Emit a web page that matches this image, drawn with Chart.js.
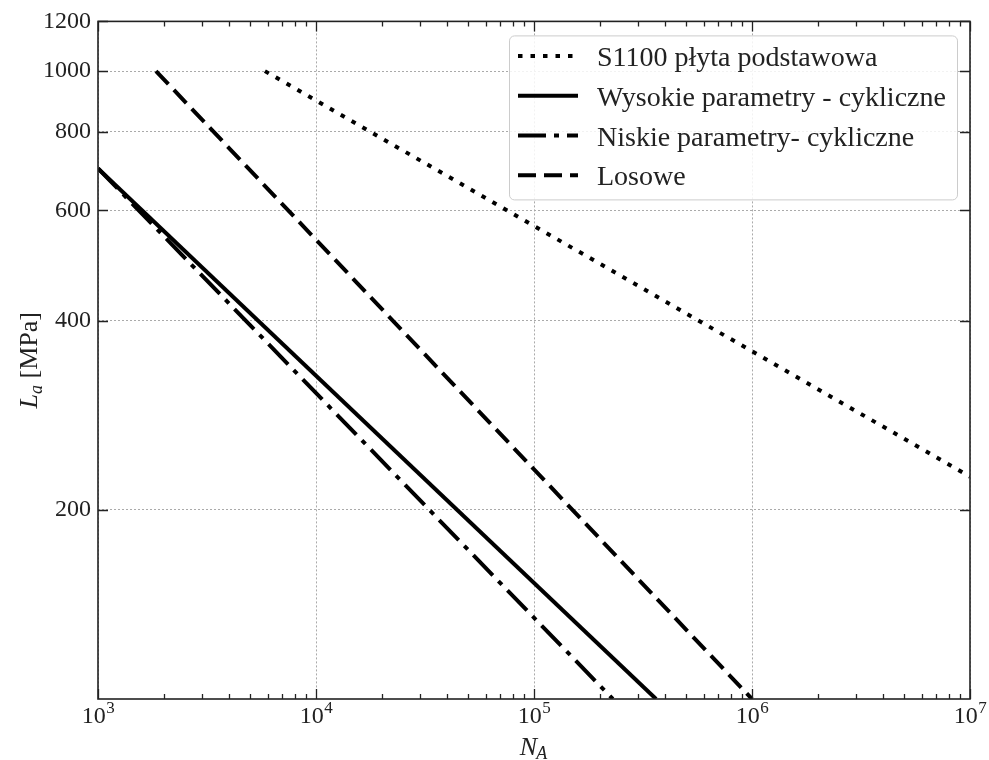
<!DOCTYPE html>
<html>
<head>
<meta charset="utf-8">
<title>L_a - N_A</title>
<script src="https://cdn.jsdelivr.net/npm/chart.js@4.4.1/dist/chart.umd.min.js"></script>
<style>
  html, body { margin: 0; padding: 0; background: #fff; }
  #wrap { width: 989px; height: 760px; }
</style>
</head>
<body>
<div id="wrap"><canvas id="chart" width="989" height="760"></canvas></div>
<script>
/* --------------- Data --------------------- */
const seriesLabels = [
  "S1100 płyta podstawowa",
  "Wysokie parametry - cykliczne",
  "Niskie parametry- cykliczne",
  "Losowe",
];
const s1100N = [5830, 1e7];
const s1100L = [1000, 226];
const wysokieN = [1000, 363000];
const wysokieL = [700, 100];
const niskieN = [1000, 230000];
const niskieL = [700, 100];
const losoweN = [1845, 1e6];
const losoweL = [1000, 100];
/* --------------- Ticks --------------------- */
const xTicks = [1e3, 1e4, 1e5, 1e6, 1e7];
const xExponents = ["3", "4", "5", "6", "7"];
const yTicks = [200, 400, 600, 800, 1000, 1200];

const serif = '"Liberation Serif", "Times New Roman", serif';
const ink = "#222";

const toPoints = (xs, ys) => xs.map((v, i) => ({ x: v, y: ys[i] }));

const lineStyle = (label, xs, ys, dash) => ({
  label: label,
  data: toPoints(xs, ys),
  borderColor: "#000",
  backgroundColor: "#000",
  borderWidth: 4,
  borderDash: dash,
  borderCapStyle: "butt",
  pointRadius: 0,
  fill: false,
  tension: 0,
});

/* --------------- Frame, ticks, labels, legend --------------------- */
const decorPlugin = {
  id: "decor",
  afterDraw(chart) {
    const { ctx, chartArea: a, scales } = chart;
    const x = scales.x, y = scales.y;
    ctx.save();
    ctx.strokeStyle = ink;
    ctx.lineWidth = 1.3;
    ctx.setLineDash([]);

    // x major and minor ticks, bottom and top, pointing in
    ctx.beginPath();
    xTicks.forEach((v) => {
      const px = Math.round(x.getPixelForValue(v)) + 0.5;
      ctx.moveTo(px, a.bottom); ctx.lineTo(px, a.bottom - 10);
      ctx.moveTo(px, a.top); ctx.lineTo(px, a.top + 10);
    });
    for (let d = 0; d < xTicks.length - 1; d++) {
      for (let m = 2; m <= 9; m++) {
        const px = Math.round(x.getPixelForValue(xTicks[d] * m)) + 0.5;
        ctx.moveTo(px, a.bottom); ctx.lineTo(px, a.bottom - 5);
        ctx.moveTo(px, a.top); ctx.lineTo(px, a.top + 5);
      }
    }
    // y major ticks, left and right
    yTicks.forEach((v) => {
      const py = Math.round(y.getPixelForValue(v)) + 0.5;
      ctx.moveTo(a.left, py); ctx.lineTo(a.left + 10, py);
      ctx.moveTo(a.right, py); ctx.lineTo(a.right - 10, py);
    });
    ctx.stroke();

    // frame
    ctx.lineWidth = 1.6;
    ctx.strokeRect(a.left, a.top, a.right - a.left, a.bottom - a.top);

    // x tick labels 10^n
    ctx.fillStyle = ink;
    ctx.textBaseline = "alphabetic";
    ctx.textAlign = "left";
    xTicks.forEach((v, i) => {
      const px = x.getPixelForValue(v);
      ctx.font = "24px " + serif;
      const wBase = ctx.measureText("10").width;
      ctx.font = "17px " + serif;
      const wExp = ctx.measureText(xExponents[i]).width;
      const left = px - (wBase + wExp) / 2;
      ctx.font = "24px " + serif;
      ctx.fillText("10", left, a.bottom + 24);
      ctx.font = "17px " + serif;
      ctx.fillText(xExponents[i], left + wBase + 0.5, a.bottom + 14);
    });

    // x axis title N_A
    {
      ctx.font = "italic 26px " + serif;
      const wN = ctx.measureText("N").width;
      ctx.font = "italic 18px " + serif;
      const wA = ctx.measureText("A").width;
      const cx = (a.left + a.right) / 2;
      const left = cx - (wN + wA) / 2;
      ctx.font = "italic 26px " + serif;
      ctx.fillText("N", left, 755);
      ctx.font = "italic 18px " + serif;
      ctx.fillText("A", left + wN - 1, 759);
    }

    // y axis title L_a [MPa]
    {
      ctx.save();
      ctx.translate(37, (a.top + a.bottom) / 2);
      ctx.rotate(-Math.PI / 2);
      ctx.font = "italic 26px " + serif;
      const wL = ctx.measureText("L").width;
      ctx.font = "italic 18px " + serif;
      const wa = ctx.measureText("a").width;
      ctx.font = "26px " + serif;
      const wRest = ctx.measureText(" [MPa]").width;
      let left = -(wL + wa + wRest) / 2;
      ctx.font = "italic 26px " + serif;
      ctx.fillText("L", left, 0);
      left += wL;
      ctx.font = "italic 18px " + serif;
      ctx.fillText("a", left, 5);
      left += wa;
      ctx.font = "26px " + serif;
      ctx.fillText(" [MPa]", left, 0);
      ctx.restore();
    }

    // legend
    const bx = a.right - 461, by = a.top + 14, bw = 448, bh = 164;
    ctx.beginPath();
    ctx.roundRect(bx + 0.5, by + 0.5, bw, bh, 5);
    ctx.fillStyle = "rgba(255,255,255,0.85)";
    ctx.fill();
    ctx.strokeStyle = "#cccccc";
    ctx.lineWidth = 1;
    ctx.stroke();

    chart.data.datasets.forEach((ds, i) => {
      const cy = by + 20.5 + i * 39.8;
      ctx.beginPath();
      ctx.setLineDash(ds.borderDash || []);
      ctx.lineCap = "butt";
      ctx.lineWidth = ds.borderWidth;
      ctx.strokeStyle = ds.borderColor;
      ctx.moveTo(bx + 9, cy);
      ctx.lineTo(bx + 69, cy);
      ctx.stroke();
      ctx.setLineDash([]);
      ctx.fillStyle = ink;
      ctx.font = "28px " + serif;
      ctx.fillText(ds.label, bx + 88, cy + 10);
    });
    ctx.restore();
  },
};

/* --------------- Chart --------------------- */
const chart = new Chart(document.getElementById("chart"), {
  type: "line",
  data: {
    datasets: [
      lineStyle(seriesLabels[0], s1100N, s1100L, [4.5, 8]),
      lineStyle(seriesLabels[1], wysokieN, wysokieL, []),
      lineStyle(seriesLabels[2], niskieN, niskieL, [28, 8, 5, 8]),
      lineStyle(seriesLabels[3], losoweN, losoweL, [18, 8]),
    ],
  },
  plugins: [decorPlugin],
  options: {
    responsive: false,
    animation: false,
    events: [],
    layout: { padding: { top: 19, right: 19, left: 0, bottom: 0 } },
    plugins: {
      legend: { display: false },
      tooltip: { enabled: false },
    },
    scales: {
      x: {
        type: "logarithmic",
        min: 1e3,
        max: 1e7,
        afterBuildTicks: (s) => { s.ticks = xTicks.map((v) => ({ value: v })); },
        afterFit: (s) => { s.height = 61; },
        ticks: { display: false },
        grid: { color: "#aaaaaa", lineWidth: 1, drawTicks: false },
        border: { display: false, dash: [2, 2] },
      },
      y: {
        type: "logarithmic",
        min: 100,
        max: 1200,
        afterBuildTicks: (s) => { s.ticks = yTicks.map((v) => ({ value: v })); },
        afterFit: (s) => { s.width = 98; },
        ticks: {
          color: ink,
          padding: 7,
          font: { family: serif, size: 24 },
          callback: (v) => String(v),
        },
        grid: { color: "#aaaaaa", lineWidth: 1, drawTicks: false },
        border: { display: false, dash: [2, 2] },
      },
    },
  },
});
</script>
</body>
</html>
